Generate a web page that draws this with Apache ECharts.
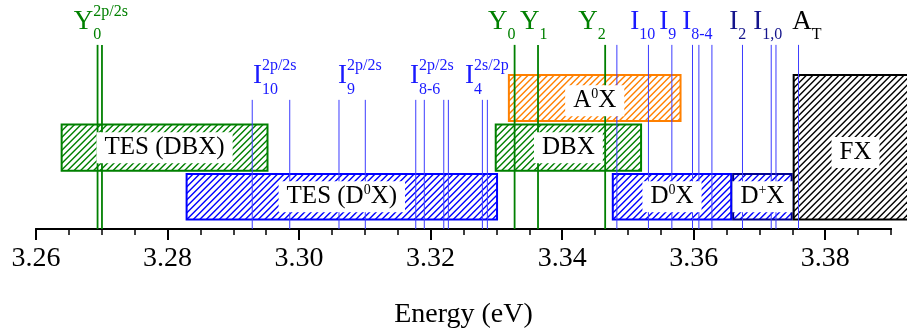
<!DOCTYPE html>
<html><head><meta charset="utf-8">
<script src="https://cdn.jsdelivr.net/npm/echarts@6/dist/echarts.min.js"></script>
<style>html,body{margin:0;padding:0;background:#fff}#c{width:907px;height:333px}</style>
</head><body><div id="c"></div>
<script>
// ---------------- data ----------------
const xTicks = [3.26, 3.28, 3.30, 3.32, 3.34, 3.36, 3.38];
const axisMin = 3.26, axisMax = 3.39;

// hatched energy ranges
const boxNames = ['TES (DBX)', 'TES (D{s|0}X)', 'DBX', 'A{s|0}X', 'D{s|0}X', 'D{s|+}X', 'FX'];
const boxStart = [3.2639, 3.2829, 3.3299, 3.3319, 3.3477, 3.3660, 3.3752];
const boxEnd   = [3.2952, 3.3301, 3.3520, 3.3580, 3.3657, 3.3749, 3.3940];
const boxRow   = ['mid', 'low', 'mid', 'top', 'low', 'low', 'tall'];
const boxColor = ['#008000', '#0000ff', '#008000', '#ff8000', '#0000ff', '#000090', '#000000'];
const boxHatch = ['#008000', '#0000ff', '#008000', '#ff8000', '#0000ff', '#0000ff', '#000000'];

// vertical transition lines (eV)
const greenLines    = [3.26936, 3.27003, 3.33277, 3.33633, 3.34654];
const blueLinesLow  = [3.29288, 3.29858, 3.30607, 3.31007, 3.31774, 3.31904, 3.32200, 3.32270, 3.32787, 3.32863];
const blueLinesHigh = [3.34832, 3.35312, 3.35668, 3.35982, 3.36079, 3.36277, 3.36742, 3.37179, 3.37251, 3.37594];

// line labels
const labelMain  = ['Y', 'I', 'I', 'I', 'I', 'Y', 'Y', 'Y', 'I', 'I', 'I', 'I', 'I', 'A'];
const labelSub   = ['0', '10', '9', '8-6', '4', '0', '1', '2', '10', '9', '8-4', '2', '1,0', 'T'];
const labelSup   = ['2p/2s', '2p/2s', '2p/2s', '2p/2s', '2s/2p', '', '', '', '', '', '', '', '', ''];
const labelAt    = [3.26575, 3.29298, 3.30592, 3.31687, 3.32524, 3.32873, 3.33360, 3.34243, 3.35034, 3.35475, 3.35825, 3.36540, 3.36905, 3.37499];
const labelTier  = ['high', 'low', 'low', 'low', 'low', 'high', 'high', 'high', 'high', 'high', 'high', 'high', 'high', 'high'];
const labelColor = ['#008000', '#1a1aff', '#1a1aff', '#1a1aff', '#1a1aff', '#008000', '#008000', '#008000',
                    '#1a1aff', '#1a1aff', '#1a1aff', '#14148c', '#14148c', '#000000'];

// ---------------- layout ----------------
const FF = '"Liberation Serif", "Times New Roman", serif';
const ROW = { low: [0.21, 1.20], mid: [1.27, 2.28], top: [2.36, 3.36], tall: [0.21, 3.36] };
const ROW_TEXT = { low: 0.705, mid: 1.775, top: 2.80, tall: 1.67 };
const LINE_TOP_HIGH = 4.02, LINE_TOP_LOW = 2.82;
const TIER = { high: 4.53, low: 3.34 };
const MAIN_FONT = 27, SMALL_FONT = 16;

const cvs = document.createElement('canvas');
const ctx = cvs.getContext('2d');
function measure(t, size) { ctx.font = size + 'px ' + FF; return ctx.measureText(t).width; }

const boxData = boxStart.map((s, i) => [s, boxEnd[i], ROW[boxRow[i]][0], ROW[boxRow[i]][1]]);
const lineData = [
  ...greenLines.map(e => [e, LINE_TOP_HIGH, 0]),
  ...blueLinesLow.map(e => [e, LINE_TOP_LOW, 1]),
  ...blueLinesHigh.map(e => [e, LINE_TOP_HIGH, 1])
];
const boxLabelData = boxStart.map((s, i) => [(s + boxEnd[i]) / 2, ROW_TEXT[boxRow[i]]]);
const lineLabelData = labelAt.map((e, i) => [e, TIER[labelTier[i]]]);

const chart = echarts.init(document.getElementById('c'), null, { renderer: 'canvas' });

const option = {
  animation: false,
  backgroundColor: '#fff',
  grid: { left: 36, right: 16, top: 0, bottom: 104, containLabel: false, outerBoundsMode: 'none' },
  xAxis: [{
    type: 'value', min: axisMin, max: axisMax, interval: 0.02,
    axisLine: { show: true, lineStyle: { color: '#000', width: 2 } },
    axisTick: { show: true, length: 11, customValues: xTicks, lineStyle: { color: '#000', width: 2 } },
    axisLabel: { customValues: xTicks, formatter: v => v.toFixed(2), fontFamily: FF, fontSize: 28, color: '#000', margin: 16 },
    splitLine: { show: false },
    name: 'Energy (eV)', nameLocation: 'middle', nameGap: 72,
    nameTextStyle: { fontFamily: FF, fontSize: 28, color: '#000' }
  }, {
    type: 'value', min: axisMin, max: axisMax, interval: 0.005, position: 'bottom',
    axisLine: { show: true, lineStyle: { color: '#000', width: 2 } },
    axisTick: { show: true, length: 6, lineStyle: { color: '#000', width: 1.5 } },
    axisLabel: { show: false }, splitLine: { show: false }
  }],
  yAxis: { type: 'value', min: 0, max: 5, show: false },
  series: [
    {
      type: 'custom', z: 1, clip: false, data: boxData,
      renderItem(params, api) {
        const i = params.dataIndex;
        const p0 = api.coord([api.value(0), api.value(3)]);
        const p1 = api.coord([api.value(1), api.value(2)]);
        const x0 = p0[0], y0 = p0[1], x1 = p1[0], y1 = p1[1];
        const children = [];
        const step = 6.5;
        for (let c = x0 + y0; c < x1 + y1 + step; c += step) {
          const xa = Math.max(x0, c - y1), xb = Math.min(x1, c - y0);
          if (xb > xa) children.push({ type: 'line', shape: { x1: xa, y1: c - xa, x2: xb, y2: c - xb },
            style: { stroke: boxHatch[i], lineWidth: 1.4 } });
        }
        children.push({ type: 'rect', shape: { x: x0, y: y0, width: x1 - x0, height: y1 - y0 },
          style: { fill: null, stroke: boxColor[i], lineWidth: 2 } });
        return { type: 'group', children };
      }
    },
    {
      type: 'custom', z: 2, clip: false, data: lineData,
      renderItem(params, api) {
        const a = api.coord([api.value(0), 0]);
        const b = api.coord([api.value(0), api.value(1)]);
        const g = api.value(2) === 0;
        return { type: 'line', shape: { x1: a[0], y1: a[1], x2: b[0], y2: b[1] },
          style: { stroke: g ? '#008000' : '#3c3cff', lineWidth: g ? 1.8 : 1 } };
      }
    },
    {
      type: 'custom', z: 3, clip: false, data: boxLabelData,
      renderItem(params, api) {
        const i = params.dataIndex;
        const p = api.coord([api.value(0), api.value(1)]);
        return { type: 'text', x: p[0], y: p[1],
          style: { text: boxNames[i], fontFamily: FF, fontSize: 25, fill: '#000', align: 'center', verticalAlign: 'middle',
            backgroundColor: '#fff', padding: [2, 8, 2, 8], lineHeight: 27,
            rich: { s: { fontFamily: FF, fontSize: 14, verticalAlign: 'top', lineHeight: 14, fill: '#000' } } } };
      }
    },
    {
      type: 'custom', z: 4, clip: false, data: lineLabelData,
      renderItem(params, api) {
        const i = params.dataIndex;
        const p = api.coord([api.value(0), api.value(1)]);
        const w = measure(labelMain[i], MAIN_FONT);
        const col = labelColor[i];
        const children = [{ type: 'text', x: p[0], y: p[1],
          style: { text: labelMain[i], fontFamily: FF, fontSize: MAIN_FONT, fill: col, align: 'left', verticalAlign: 'middle' } }];
        if (labelSub[i]) children.push({ type: 'text', x: p[0] + w, y: p[1] + 13.5,
          style: { text: labelSub[i], fontFamily: FF, fontSize: SMALL_FONT, fill: col, align: 'left', verticalAlign: 'middle' } });
        if (labelSup[i]) children.push({ type: 'text', x: p[0] + w, y: p[1] - 10,
          style: { text: labelSup[i], fontFamily: FF, fontSize: SMALL_FONT, fill: col, align: 'left', verticalAlign: 'middle' } });
        return { type: 'group', children };
      }
    }
  ]
};
chart.setOption(option);
</script>
</body></html>
